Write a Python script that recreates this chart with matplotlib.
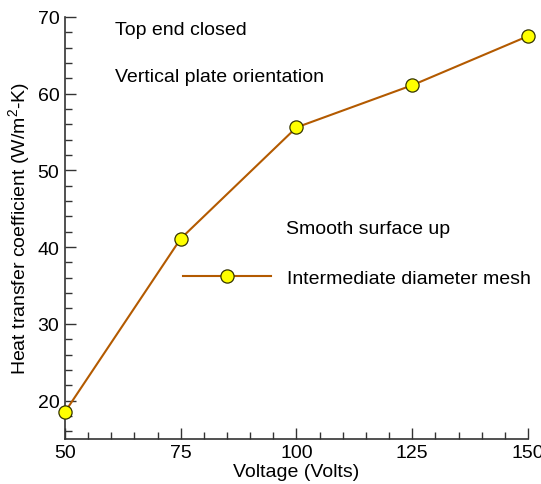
import matplotlib
matplotlib.use('Agg')
import matplotlib.pyplot as plt
from matplotlib.ticker import MultipleLocator

plt.rcParams['font.family'] = ['Liberation Sans', 'DejaVu Sans']
plt.rcParams['mathtext.fontset'] = 'custom'
plt.rcParams['mathtext.rm'] = 'Liberation Sans'

voltage = [50, 75, 100, 125, 150]
htc = [18.5, 41.1, 55.6, 61.1, 67.5]
series_label = 'Intermediate diameter mesh'

line_color = '#b35a00'
fs = 14

fig = plt.figure(figsize=(5.41, 4.85), dpi=100)
ax = fig.add_axes([0.120, 0.093, 0.856, 0.870])

ax.plot(voltage, htc, color=line_color, lw=1.5, marker='o', ms=9.5,
        markerfacecolor='#ffff00', markeredgecolor='#333300', markeredgewidth=0.9,
        label=series_label, clip_on=False, zorder=3)

ax.set_xlim(50, 150)
ax.set_ylim(15, 70)
ax.xaxis.set_major_locator(MultipleLocator(25))
ax.xaxis.set_minor_locator(MultipleLocator(5))
ax.yaxis.set_major_locator(MultipleLocator(10))
ax.yaxis.set_minor_locator(MultipleLocator(2))
ax.tick_params(which='both', direction='in', labelsize=fs, width=1, color='#333333')
ax.tick_params(which='major', length=8, pad=4)
ax.tick_params(which='minor', length=5)
for s in ['top', 'right']:
    ax.spines[s].set_visible(False)
for s in ['left', 'bottom']:
    ax.spines[s].set_color('#333333')
    ax.spines[s].set_linewidth(1.2)

ax.set_xlabel('Voltage (Volts)', fontsize=fs, labelpad=1)
ax.set_ylabel(r'Heat transfer coefficient (W/m$^{\mathregular{2}}$-K)', fontsize=fs, labelpad=3)

ax.text(60.8, 68.4, 'Top end closed', fontsize=fs, va='center')
ax.text(60.8, 62.2, 'Vertical plate orientation', fontsize=fs, va='center')
ax.text(97.7, 42.4, 'Smooth surface up', fontsize=fs, va='center')

ax.legend(loc='center left', bbox_to_anchor=(0.255, 0.3815), frameon=False,
          fontsize=fs, handlelength=4.55, handletextpad=0.8, borderpad=0,
          borderaxespad=0, numpoints=1)

fig.savefig('out.png', dpi=100)
